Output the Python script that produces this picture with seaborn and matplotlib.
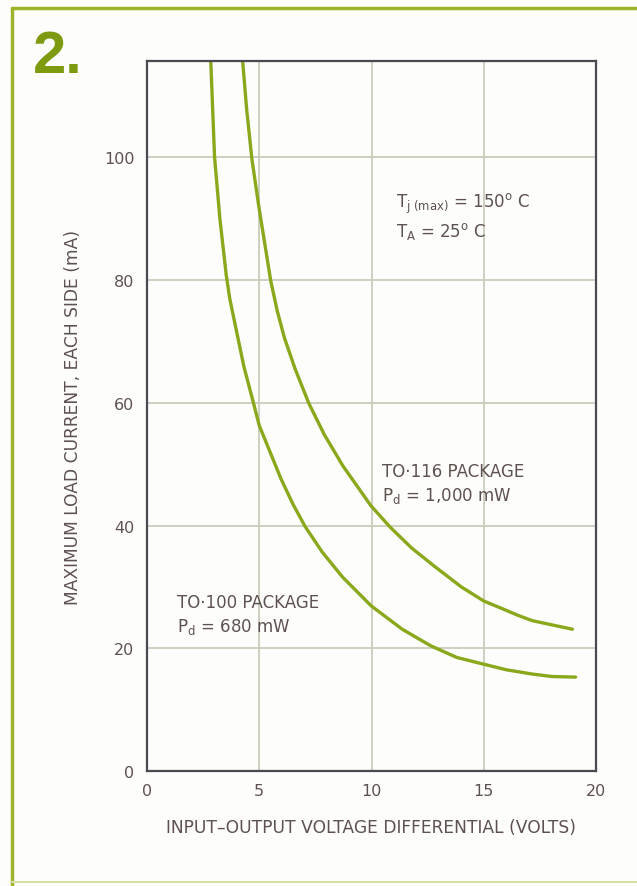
import numpy as np
import matplotlib
matplotlib.use('Agg')
import matplotlib.pyplot as plt
import seaborn as sns
from matplotlib.lines import Line2D

# values (volts, mA)
to100_volts = [2.84, 3.01, 3.25, 3.53, 3.69, 4.31, 4.74, 5.0, 5.97, 6.5, 7.05, 7.8, 8.71,
               9.99, 11.37, 12.64, 13.8, 15.0, 16.0, 17.16, 18.02, 19.09]
to100_ma = [115.7, 100, 89.9, 80.8, 76.9, 66.0, 60, 56.3, 47.6, 43.5, 39.8, 35.7, 31.6,
            26.9, 23.1, 20.4, 18.5, 17.4, 16.5, 15.8, 15.4, 15.3]

to116_volts = [4.26, 4.44, 4.67, 4.98, 5.51, 5.8, 6.12, 6.6, 7.21, 7.9, 8.73, 9.98, 10.84,
               11.8, 12.79, 14.0, 15.0, 15.86, 16.5, 17.16, 18.95]
to116_ma = [115.7, 107.8, 99.8, 92.0, 79.9, 75.0, 70.6, 65.5, 59.9, 54.8, 49.7, 43.2, 39.7,
            36.3, 33.4, 30.0, 27.7, 26.4, 25.4, 24.5, 23.1]

x_ticks = [0, 5, 10, 15, 20]
y_ticks = [0, 20, 40, 60, 80, 100]

sns.set_style('white')
plt.rcParams['font.family'] = ['DejaVu Sans']
plt.rcParams['mathtext.fontset'] = 'dejavusans'

curve_col = '#8aa81c'
text_col = '#5e5250'
grid_col = '#c9ccbc'
olive = '#7e9a10'

fig = plt.figure(figsize=(6.37, 8.87), dpi=100)
fig.patch.set_facecolor('#fdfdfb')
ax = fig.add_axes([147/637, 1-772/887, (596-147)/637, (772-62)/887])
ax.set_facecolor('#fdfdfb')

sns.lineplot(x=to100_volts, y=to100_ma, ax=ax, color=curve_col, lw=2.4,
             estimator=None, sort=False)
sns.lineplot(x=to116_volts, y=to116_ma, ax=ax, color=curve_col, lw=2.4,
             estimator=None, sort=False)

ax.set_xlim(0, 20)
ax.set_ylim(0, 115.7)
ax.set_xticks(x_ticks)
ax.set_yticks(y_ticks)
ax.grid(True, color=grid_col, lw=1.3)
ax.set_axisbelow(True)
for s in ax.spines.values():
    s.set_color('#4a4a52')
    s.set_linewidth(1.6)
ax.tick_params(length=0, labelsize=11.5, labelcolor=text_col)
ax.tick_params(axis='y', pad=9)
ax.tick_params(axis='x', pad=9)

ax.set_xlabel('INPUT\u2013OUTPUT VOLTAGE DIFFERENTIAL (VOLTS)', fontsize=12.3,
              color=text_col)
ax.xaxis.set_label_coords(0.5, -0.066)
ax.set_ylabel('MAXIMUM LOAD CURRENT, EACH SIDE (mA)', fontsize=12.3,
              color=text_col)
ax.yaxis.set_label_coords(-0.145, 0.5)

ann = dict(fontsize=12, color=text_col, va='center')
ax.text(11.1, 92.5, r'T$_{\mathregular{j\ (max)}}$ = 150$^{\mathregular{o}}$ C', **ann)
ax.text(11.1, 88.0, r'T$_{\mathregular{A}}$ = 25$^{\mathregular{o}}$ C', **ann)
ax.text(10.45, 48.9, 'TO\u00b7116 PACKAGE', **ann)
ax.text(10.45, 45.0, r'P$_{\mathregular{d}}$ = 1,000 mW', **ann)
ax.text(1.35, 27.5, 'TO\u00b7100 PACKAGE', **ann)
ax.text(1.35, 23.6, r'P$_{\mathregular{d}}$ = 680 mW', **ann)

fig.text(33/637, 1-73/887, '2.', fontsize=43, fontweight='bold', color=olive,
         va='baseline', ha='left', family=['Liberation Sans', 'DejaVu Sans'])

# frame around the figure
fig.add_artist(Line2D([12/637, 12/637], [0, 1-9/887], transform=fig.transFigure,
                      color='#9cb32a', lw=2.5))
fig.add_artist(Line2D([12/637, 1], [1-9/887, 1-9/887], transform=fig.transFigure,
                      color='#9cb32a', lw=2.5))
fig.add_artist(Line2D([12/637, 1], [4/887, 4/887], transform=fig.transFigure,
                      color='#d8e0a8', lw=1.5))

plt.savefig('out.png', dpi=100)
